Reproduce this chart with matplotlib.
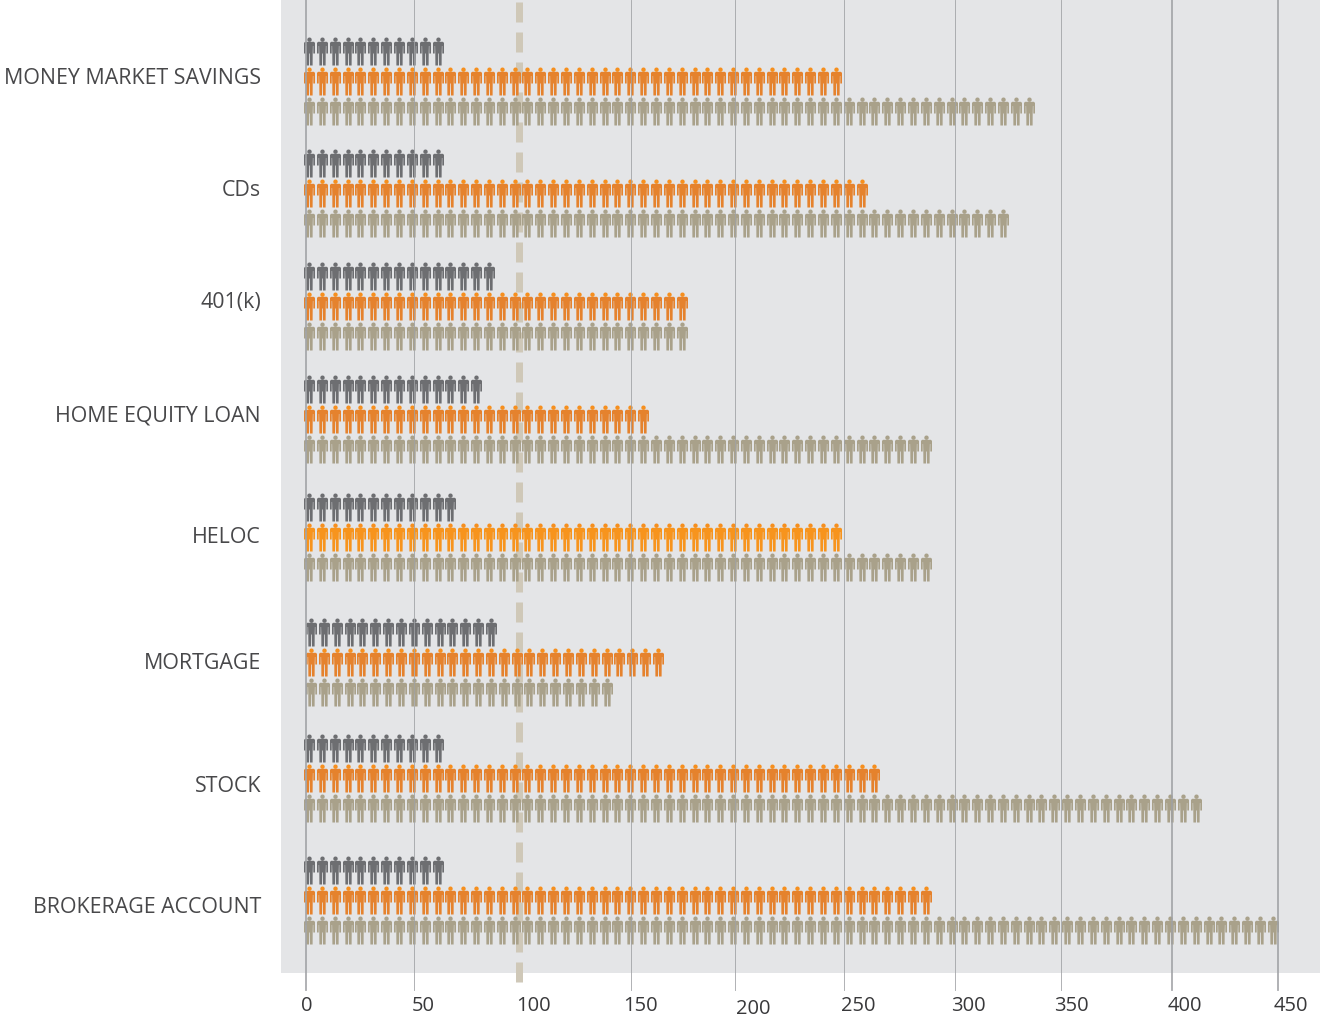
import numpy as np
import matplotlib
matplotlib.use("Agg")
import matplotlib.pyplot as plt
from matplotlib.path import Path
from matplotlib.transforms import ScaledTranslation

plt.rcParams['font.family'] = ['Open Sans', 'DejaVu Sans']

# data: number of person icons in each row
categories = ['MONEY MARKET SAVINGS', 'CDs', '401(k)', 'HOME EQUITY LOAN',
              'HELOC', 'MORTGAGE', 'STOCK', 'BROKERAGE ACCOUNT']
grey_people = [11, 11, 15, 14, 12, 15, 11, 11]
orange_people = [42, 44, 30, 27, 42, 28, 45, 49]
tan_people = [57, 55, 30, 49, 49, 24, 70, 76]
tick_values = [0, 50, 100, 150, 200, 250, 300, 350, 400, 450]
grid_values = [0, 50, 150, 200, 250, 300, 350, 400, 450]
average_value = 98.6

# layout (the original has hand placed rows and labels), in pixels
row_centres = [81, 193.5, 306, 418.5, 537, 661.5, 778, 900]
label_y = [76, 188, 300, 413, 535, 661, 784, 905]
row_gap = 30
grid_nudge = [0, 0, 1.3, -2.6, -1.1, 2, 0, 3.2, 0.5]
grid_width = [2, 1, 1, 1, 1, 1, 1, 2, 2]
tick_nudge = [1, 9.5, 12, 11, 16, 13, 15, 10, 16, 14]
tick_drop = [0, 0, 0, 0, 3, 0, 0, 0, 0, 0]

PX_PER_UNIT = 971 / 450
ICON_STEP = 12.85 / PX_PER_UNIT
PX = 0.72  # pixels to points at dpi 100

# person icon outline, y runs from -14 to 14 px
outline = np.array([
    (-4.4, 9.7), (4.4, 9.7), (5.5, 8.6), (5.5, -2), (3.8, -2), (3.8, 5.5), (3.4, 5.5),
    (3.2, -2), (3.1, -14), (0.5, -14), (0.35, -2), (-0.35, -2), (-0.5, -14), (-3.1, -14),
    (-3.2, -2), (-3.4, 5.5), (-3.8, 5.5), (-3.8, -2), (-5.5, -2), (-5.5, 8.6), (-4.4, 9.7),
]) / 14
body = Path(outline, [Path.MOVETO] + [Path.LINETO] * (len(outline) - 2) + [Path.CLOSEPOLY])
head = Path.circle((0, 11.8 / 14), 2.2 / 14)


def draw_row(ax, count, y, start_px, body_color, head_color):
    x = start_px / PX_PER_UNIT + np.arange(count) * ICON_STEP
    ys = np.full(count, y)
    for shape, color in ((body, body_color), (head, head_color)):
        ax.scatter(x, ys, marker=shape, s=(28 * PX) ** 2, c=color, linewidths=0,
                   zorder=3, snap=False)


fig = plt.figure(figsize=(13.2, 10.21), dpi=100)
ax = fig.add_axes([281 / 1320, 48 / 1021, 1039 / 1320, 973 / 1021])
ax.set_facecolor('#e4e5e7')

# dashed reference line
ax.plot([average_value, average_value], [2, 982], color='#cfc8b8', lw=7 * PX,
        dashes=(20 / 7, 10 / 7), dash_capstyle='butt', clip_on=False, zorder=2)

for i, y in enumerate(row_centres):
    start = 5 if i == 5 else 3
    orange = '#f7941d' if categories[i] == 'HELOC' else '#e5822d'
    draw_row(ax, grey_people[i], y - row_gap, start, '#6d6e71', '#6d6e71')
    draw_row(ax, orange_people[i], y, start, orange, '#f68f1e')
    draw_row(ax, tan_people[i], y + row_gap, start, '#a9a18a', '#a9a18a')

# grid lines run a little below the panel
for v, n, w in zip(grid_values, grid_nudge, grid_width):
    ax.plot([v + n / PX_PER_UNIT] * 2, [0, 990], color='#a0a2a5', lw=w * PX * 0.9,
            clip_on=False, zorder=4, alpha=0.9)

ax.set_xlim(-25 / PX_PER_UNIT, 1014 / PX_PER_UNIT)
ax.set_ylim(973, 0)
for s in ax.spines.values():
    s.set_visible(False)

ax.set_yticks(label_y, categories)
ax.tick_params(axis='y', length=0, pad=20 * PX, labelsize=15.4, labelcolor='#48484a')
ax.set_xticks(tick_values, [str(v) for v in tick_values])
ax.tick_params(axis='x', length=0, pad=23 * PX, labelsize=14.5, labelcolor='#38383a')
for lab, dx, dy in zip(ax.get_xticklabels(), tick_nudge, tick_drop):
    lab.set_transform(lab.get_transform() +
                      ScaledTranslation(dx / 100, -dy / 100, fig.dpi_scale_trans))

fig.savefig('out.png', dpi=100)
